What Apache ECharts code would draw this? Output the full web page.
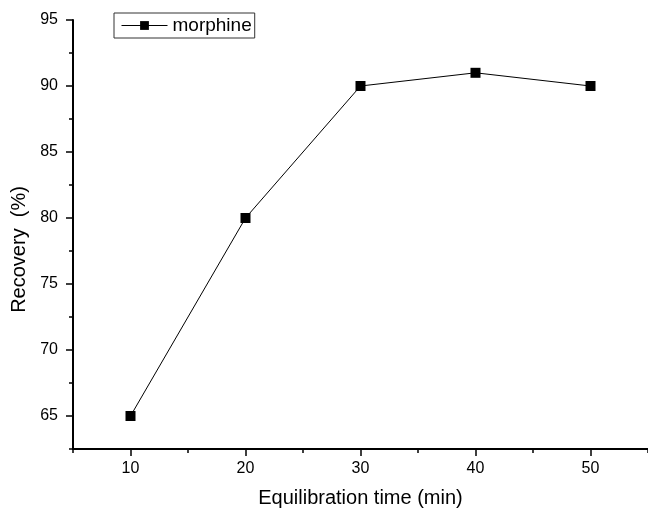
<!DOCTYPE html>
<html>
<head>
<meta charset="utf-8">
<script src="https://cdn.jsdelivr.net/npm/echarts@6/dist/echarts.min.js"></script>
<style>
  html, body { margin: 0; padding: 0; background: #fff; }
  #chart { width: 648px; height: 513px; }
</style>
</head>
<body>
<div id="chart"></div>
<script>
const seriesName = "morphine";
const timeMin = [10, 20, 30, 40, 50];
const recovery = [65, 80, 90, 91, 90];
const xMajorTicks = [10, 20, 30, 40, 50];
const xMinorTicks = [5, 15, 25, 35, 45, 55];
const yMajorTicks = [65, 70, 75, 80, 85, 90, 95];
const yMinorTicks = [62.5, 67.5, 72.5, 77.5, 82.5, 87.5, 92.5];

const font = "Liberation Sans, Arial, sans-serif";
const chart = echarts.init(document.getElementById("chart"));

// axis used only for the short in-between ticks
function hiddenAxis(min, max, ticks, pos) {
  return {
    type: "value",
    position: pos,
    min, max,
    axisLine: { show: false },
    splitLine: { show: false },
    axisLabel: { show: false },
    axisTick: {
      show: true,
      length: 4,
      customValues: ticks,
      lineStyle: { color: "#000", width: 1.5 },
    },
  };
}

chart.setOption({
  animation: false,
  grid: { left: 73, right: -2, top: 20, bottom: 62 },
  legend: {
    left: 114,
    top: 13,
    padding: [3, 3, 3, 7],
    borderColor: "#333",
    borderWidth: 1,
    itemWidth: 46,
    itemHeight: 11,
    itemGap: 6,
    lineStyle: { width: 1 },
    textStyle: { fontFamily: font, fontSize: 19, color: "#000" },
    data: [seriesName],
  },
  xAxis: [
    {
      type: "value",
      position: "bottom",
      min: 5,
      max: 55,
      name: "Equilibration time (min)",
      nameLocation: "middle",
      nameGap: 39,
      nameTextStyle: { fontFamily: font, fontSize: 20, color: "#000" },
      axisLine: { lineStyle: { color: "#000", width: 2 } },
      splitLine: { show: false },
      axisTick: {
        length: 7,
        customValues: xMajorTicks,
        lineStyle: { color: "#000", width: 1.5 },
      },
      axisLabel: {
        customValues: xMajorTicks,
        margin: 12,
        fontFamily: font,
        fontSize: 16,
        color: "#000",
      },
    },
    hiddenAxis(5, 55, xMinorTicks, "bottom"),
  ],
  yAxis: [
    {
      type: "value",
      position: "left",
      min: 62.5,
      max: 95,
      name: "Recovery  (%)",
      nameLocation: "middle",
      nameGap: 41,
      nameTextStyle: { fontFamily: font, fontSize: 20, color: "#000", padding: [0, 30, 0, 0] },
      axisLine: { show: true, lineStyle: { color: "#000", width: 2 } },
      splitLine: { show: false },
      axisTick: {
        show: true,
        length: 7,
        customValues: yMajorTicks,
        lineStyle: { color: "#000", width: 1.5 },
      },
      axisLabel: {
        customValues: yMajorTicks,
        margin: 15,
        fontFamily: font,
        fontSize: 16,
        color: "#000",
      },
    },
    hiddenAxis(62.5, 95, yMinorTicks, "left"),
  ],
  series: [
    {
      name: seriesName,
      type: "line",
      xAxisIndex: 0,
      yAxisIndex: 0,
      data: timeMin.map((t, i) => [t, recovery[i]]),
      symbol: "rect",
      symbolSize: 10,
      itemStyle: { color: "#000" },
      lineStyle: { color: "#000", width: 1 },
    },
  ],
});
</script>
</body>
</html>
